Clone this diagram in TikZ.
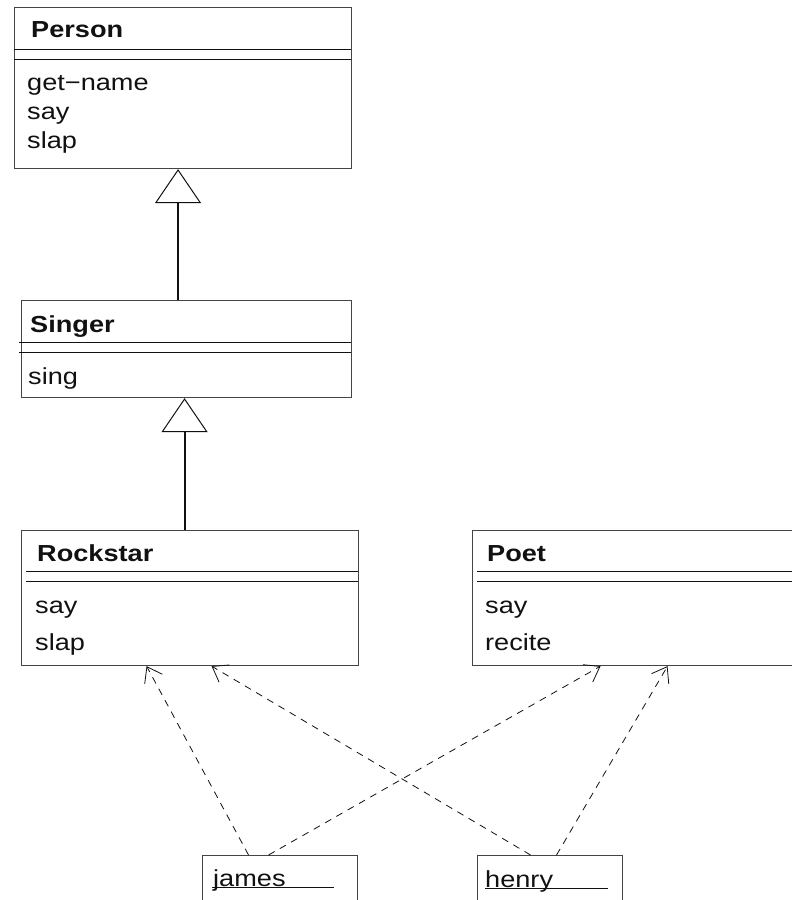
\documentclass[tikz,border=0pt]{standalone}
\usepackage{fontspec}
\newfontfamily\umlfont{Liberation Sans}[FakeStretch=1.17]
\newcommand\umlsize{\fontsize{23.2}{29}\selectfont}
\definecolor{umlEdge}{HTML}{444444}
\definecolor{umlInk}{HTML}{111111}
\usetikzlibrary{arrows.meta}

\tikzset{
  classbox/.style={draw=umlEdge, line width=1.1pt, rectangle, inner sep=0pt, anchor=north west},
  objbox/.style={classbox},
  cname/.style={font=\umlfont\umlsize\bfseries, text=umlInk, anchor=base west, inner sep=0pt},
  member/.style={font=\umlfont\umlsize, text=umlInk, anchor=base west, inner sep=0pt},
  compart/.style={draw=umlInk, line width=0.9pt},
  inherits/.style={draw=umlInk, line width=2pt,
    -{Triangle[open, length=34pt, width=46pt, line width=1pt]}},
  instof/.style={draw=umlInk, line width=0.8pt, dash pattern=on 7pt off 6pt,
    -{Straight Barb[length=14pt, width=20pt, line width=0.8pt]}},
}

\begin{document}
\begin{tikzpicture}[x=1pt, y=-1pt]
  \useasboundingbox (0,0) rectangle (792,900);
  \clip (0,0) rectangle (792,900);

  % Person
  \node[classbox, minimum width=337pt, minimum height=161pt] (person) at (14,7) {};
  \draw[compart] (14,49) -- (351,49) (14,59) -- (351,59);
  \node[cname] (personname) at (31,37) {Person};
  \node[member] (getname) at (27,90) {get−name};
  \node[member] (personsay) at (27,119) {say};
  \node[member] (personslap) at (27,148) {slap};

  % Singer
  \node[classbox, minimum width=330pt, minimum height=97pt] (singer) at (21,300) {};
  \draw[compart] (19,342) -- (351,342) (19,352) -- (351,352);
  \node[cname] (singername) at (30,332) {Singer};
  \node[member] (sing) at (28,384) {sing};

  % Rockstar
  \node[classbox, minimum width=337pt, minimum height=135pt] (rockstar) at (21,530) {};
  \draw[compart] (26,571) -- (358,571) (26,581) -- (358,581);
  \node[cname] (rockstarname) at (37,561) {Rockstar};
  \node[member] (rockstarsay) at (35,613) {say};
  \node[member] (rockstarslap) at (35,650) {slap};

  % Poet
  \node[classbox, minimum width=337pt, minimum height=135pt] (poet) at (472,530) {};
  \draw[compart] (477,571) -- (809,571) (477,581) -- (809,581);
  \node[cname] (poetname) at (487,561) {Poet};
  \node[member] (poetsay) at (485,613) {say};
  \node[member] (recite) at (485,650) {recite};

  % instances
  \node[objbox, minimum width=155pt, minimum height=60pt] (james) at (202,855) {};
  \node[member] (jamesname) at (213,886) {james};
  \draw[compart] (212,887) -- (334,887);

  \node[objbox, minimum width=145pt, minimum height=60pt] (henry) at (477,855) {};
  \node[member] (henryname) at (485,887) {henry};
  \draw[compart] (485,888) -- (608,888);

  % generalisation
  \draw[inherits] ([xshift=-8.5pt]singer.north) -- ([xshift=-5pt]person.south);
  \draw[inherits] ([xshift=-5.5pt]rockstar.north) -- ([xshift=-2pt]singer.south);

  % instance of
  \draw[instof] ([xshift=-31.5pt]james.north) -- ([xshift=-43.5pt]rockstar.south);
  \draw[instof] ([xshift=-11.5pt]james.north) -- ([xshift=-40.5pt]poet.south);
  \draw[instof] ([xshift=-19.5pt]henry.north) -- ([xshift=21.5pt]rockstar.south);
  \draw[instof] ([xshift=6.5pt]henry.north) -- ([xshift=26.5pt]poet.south);
\end{tikzpicture}
\end{document}
